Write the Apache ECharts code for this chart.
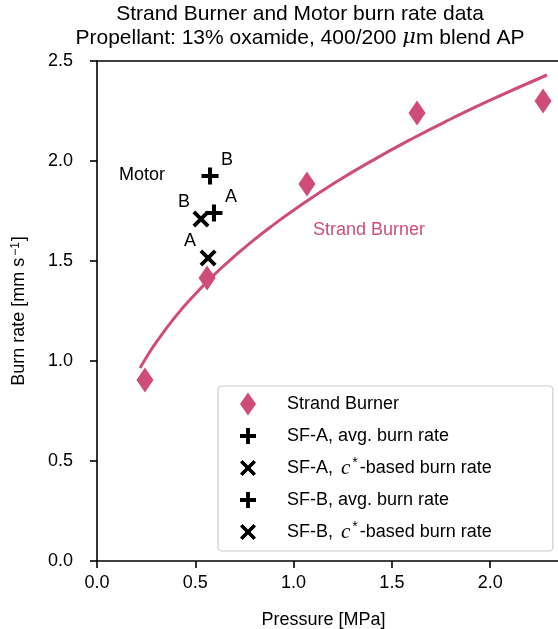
<!DOCTYPE html>
<html>
<head>
<meta charset="utf-8">
<script src="https://cdn.jsdelivr.net/npm/echarts@6/dist/echarts.min.js"></script>
<style>
  html, body { margin: 0; padding: 0; background: #fff; }
  #chart { width: 558px; height: 629px; }
</style>
</head>
<body>
<div id="chart"></div>
<script>
// Strand burner measurements (pressure in MPa, burn rate in mm/s)
const strandPressure = [0.244, 0.56, 1.068, 1.628, 2.269];
const strandRate = [0.905, 1.415, 1.885, 2.24, 2.30];

// Power-law fit through the strand burner data
const fitPressure = [0.219, 0.25, 0.30, 0.40, 0.50, 0.60, 0.70, 0.80, 0.90, 1.00, 1.20, 1.40, 1.60, 1.80, 2.00, 2.289];
const fitRate = [0.965, 1.016, 1.092, 1.223, 1.335, 1.435, 1.524, 1.607, 1.683, 1.754, 1.885, 2.002, 2.110, 2.210, 2.304, 2.430];

// Motor firings [pressure, burn rate]
const sfAAvg = [0.595, 1.74];
const sfACstar = [0.565, 1.515];
const sfBAvg = [0.575, 1.925];
const sfBCstar = [0.529, 1.71];

// Text annotations placed in data coordinates
const motorNotes = [
  ['Motor', 0.229, 1.93],
  ['B', 0.661, 2.005],
  ['A', 0.682, 1.82],
  ['B', 0.443, 1.795],
  ['A', 0.473, 1.60]
];
const strandNote = ['Strand Burner', 1.384, 1.655];

// Axis ticks
const xTicks = [0.0, 0.5, 1.0, 1.5, 2.0];
const yTicks = [0.0, 0.5, 1.0, 1.5, 2.0, 2.5];

const PINK = '#cf4c78';
const FONT = 'Liberation Sans, Arial, sans-serif';
const FS = 18;
const TITLE_FS = 21;

const PLUS = 'path://M3.8,0H6.2V3.8H10V6.2H6.2V10H3.8V6.2H0V3.8H3.8Z';
const CROSS = 'path://M1.6,0L5,3.4L8.4,0L10,1.6L6.6,5L10,8.4L8.4,10L5,6.6L1.6,10L0,8.4L3.4,5L0,1.6Z';

const names = [
  'Strand Burner',
  'SF-A, avg. burn rate',
  'SF-A, c*-based burn rate',
  'SF-B, avg. burn rate',
  'SF-B, c*-based burn rate'
];

const chart = echarts.init(document.getElementById('chart'), null, { renderer: 'canvas' });

const axisCommon = {
  axisLine: { show: true, lineStyle: { color: '#000', width: 1.6 } },
  splitLine: { show: false }
};

const blackMarker = { color: '#000', opacity: 1 };
const X_MAX = 2.345;

const option = {
  animation: false,
  backgroundColor: '#fff',
  title: {
    text: 'Strand Burner and Motor burn rate data',
    subtext: 'Propellant: 13% oxamide, 400/200 {mu|μ}m blend AP',
    left: 300,
    textAlign: 'center',
    top: 2,
    padding: 0,
    itemGap: 0,
    textStyle: { fontFamily: FONT, fontSize: TITLE_FS, fontWeight: 'normal', color: '#000', lineHeight: 24 },
    subtextStyle: {
      fontFamily: FONT, fontSize: TITLE_FS, color: '#000', lineHeight: 24,
      rich: { mu: { fontFamily: 'DejaVu Serif', fontStyle: 'italic', fontSize: TITLE_FS, color: '#000' } }
    }
  },
  grid: { left: 97, top: 61, height: 500, right: 0, outerBoundsMode: 'none', containLabel: false },
  legend: {
    data: names,
    orient: 'vertical',
    left: 218,
    top: 386,
    itemWidth: 16,
    itemHeight: 23,
    itemGap: 8,
    padding: [6, 61, 7, 22],
    backgroundColor: 'rgba(255,255,255,0.85)',
    borderColor: '#cccccc',
    borderWidth: 1.2,
    borderRadius: 4,
    selectedMode: false,
    formatter: function (n) { return n.replace('c*', '{i|c}{sup|*}'); },
    textStyle: {
      fontFamily: FONT, fontSize: FS, color: '#000', lineHeight: 24,
      padding: [0, 0, 0, 26],
      rich: {
        i: { fontFamily: 'Liberation Serif', fontStyle: 'italic', fontSize: FS + 3, color: '#000', lineHeight: 24, padding: [0, 1, 0, 3] },
        sup: { fontSize: 14, verticalAlign: 'top', color: '#000', padding: [0, 2, 8, 1], lineHeight: 24 }
      }
    }
  },
  xAxis: [
    Object.assign({}, axisCommon, {
      type: 'value', min: 0, max: X_MAX, position: 'bottom',
      name: 'Pressure [MPa]', nameLocation: 'middle', nameGap: 50,
      nameTextStyle: { fontFamily: FONT, fontSize: FS, color: '#000', padding: [0, 8, 0, 0] },
      axisTick: { show: true, inside: false, length: 7, lineStyle: { color: '#000', width: 1.6 }, customValues: xTicks },
      axisLabel: {
        fontFamily: FONT, fontSize: FS, color: '#000', margin: 13, customValues: xTicks,
        formatter: function (v) { return v.toFixed(1); }
      }
    }),
    Object.assign({}, axisCommon, {
      type: 'value', min: 0, max: X_MAX, position: 'top',
      axisTick: { show: false }, axisLabel: { show: false }
    })
  ],
  yAxis: Object.assign({}, axisCommon, {
    type: 'value', min: 0, max: 2.5, interval: 0.5,
    name: 'Burn rate [mm s{sup|−1}]', nameLocation: 'middle', nameGap: 68,
    nameTextStyle: {
      fontFamily: FONT, fontSize: FS, color: '#000',
      rich: { sup: { fontSize: 12, verticalAlign: 'top', color: '#000', padding: [0, 1, 7, 2] } }
    },
    axisTick: { show: true, inside: false, length: 7, lineStyle: { color: '#000', width: 1.6 } },
    axisLabel: {
      fontFamily: FONT, fontSize: FS, color: '#000', margin: 24, customValues: yTicks,
      formatter: function (v) { return v.toFixed(1); }
    }
  }),
  series: [
    {
      name: 'Strand Burner',
      type: 'scatter',
      symbol: 'diamond',
      symbolSize: [17, 25],
      itemStyle: { color: PINK, opacity: 1 },
      data: strandPressure.map((p, i) => [p, strandRate[i]]),
      z: 3
    },
    {
      name: 'fit',
      type: 'line',
      smooth: true,
      showSymbol: false,
      symbol: 'none',
      lineStyle: { color: PINK, width: 3 },
      data: fitPressure.map((p, i) => [p, fitRate[i]]),
      z: 4
    },
    {
      name: names[1], type: 'scatter', symbol: PLUS, symbolSize: 17,
      itemStyle: blackMarker, data: [sfAAvg], z: 5
    },
    {
      name: names[2], type: 'scatter', symbol: CROSS, symbolSize: 17,
      itemStyle: blackMarker, data: [sfACstar], z: 5
    },
    {
      name: names[3], type: 'scatter', symbol: PLUS, symbolSize: 17,
      itemStyle: blackMarker, data: [sfBAvg], z: 5
    },
    {
      name: names[4], type: 'scatter', symbol: CROSS, symbolSize: 17,
      itemStyle: blackMarker, data: [sfBCstar], z: 5
    },
    {
      name: 'notes',
      type: 'scatter',
      symbol: 'circle',
      symbolSize: 2,
      itemStyle: { color: '#fff', opacity: 1 },
      silent: true,
      label: {
        show: true, position: 'inside', formatter: '{b}', opacity: 1,
        fontFamily: FONT, fontSize: FS, color: '#000'
      },
      labelLayout: { hideOverlap: false },
      data: motorNotes.map(n => ({ name: n[0], value: [n[1], n[2]] })).concat([
        { name: strandNote[0], value: [strandNote[1], strandNote[2]], label: { color: PINK } }
      ]),
      z: 6
    }
  ]
};

chart.setOption(option);
</script>
</body>
</html>
